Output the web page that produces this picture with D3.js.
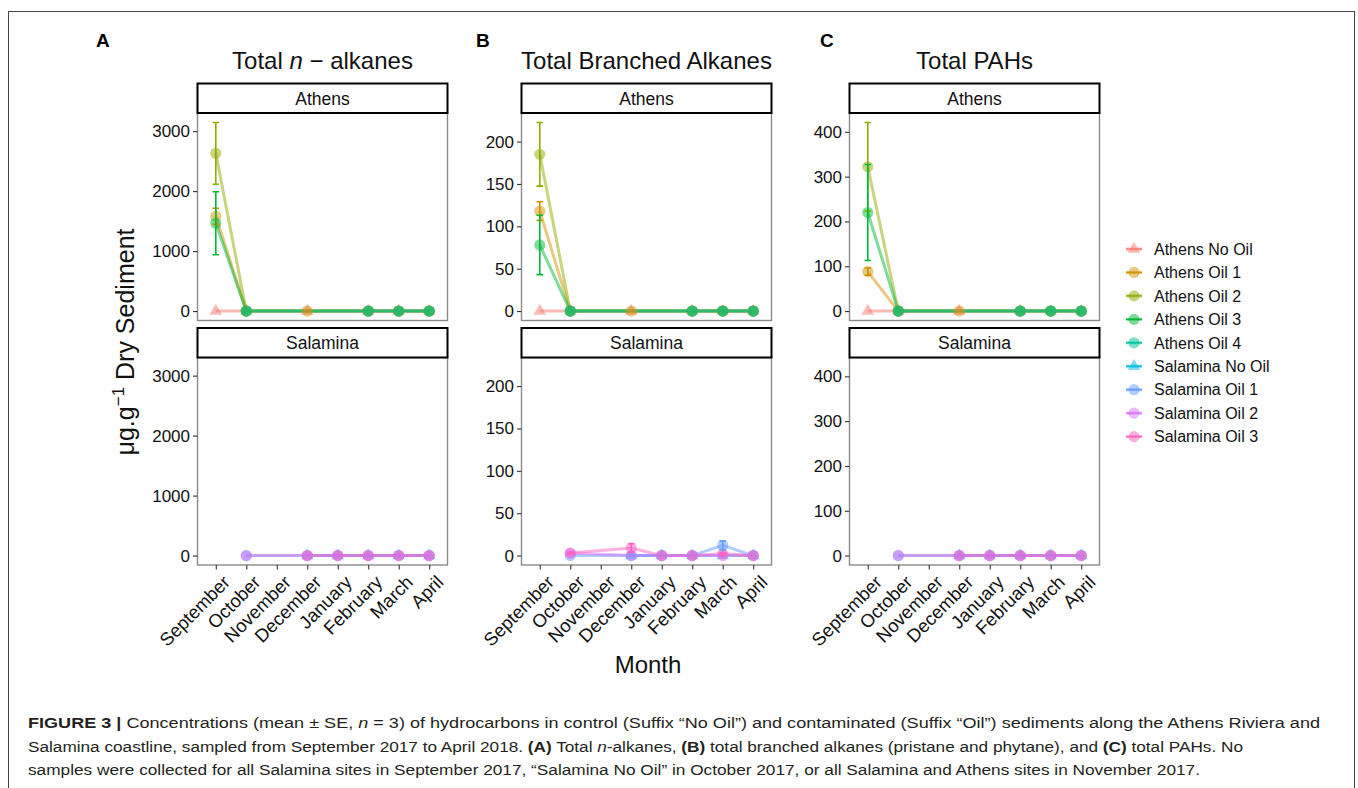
<!DOCTYPE html>
<html><head><meta charset="utf-8">
<script src="https://cdn.jsdelivr.net/npm/d3@7"></script>
<style>
body{margin:0;background:#fff}
svg{display:block}
text{font-family:"Liberation Sans",Arial,Helvetica,sans-serif}
</style>
</head><body>
<svg id="c" width="1358" height="788"></svg>
<script>
// ---------------- DATA ----------------
const months = ["September","October","November","December","January","February","March","April"];
const seriesNames = ["Athens No Oil","Athens Oil 1","Athens Oil 2","Athens Oil 3","Athens Oil 4",
                     "Salamina No Oil","Salamina Oil 1","Salamina Oil 2","Salamina Oil 3"];
const seriesSite = ["Athens","Athens","Athens","Athens","Athens","Salamina","Salamina","Salamina","Salamina"];
const seriesShape = ["triangle","circle","circle","circle","circle","triangle","circle","circle","circle"];
const seriesColors = ["#F8766D","#D39200","#93AA00","#00BA38","#00C19F","#00B9E3","#619CFF","#DB72FB","#FF61C3"];
const sites = ["Athens","Salamina"];
const panelLetters = ["A","B","C"];
const yTicksA = [0,1000,2000,3000];
const yTicksB = [0,50,100,150,200];
const yTicksC = [0,100,200,300,400];

// (A) Total n-alkanes: mean, SE  (null = not sampled)
const nAlkMean = [
  [0,0,null,0,null,0,0,0],
  [1580,0,null,0,null,0,0,0],
  [2630,0,null,null,null,0,0,0],
  [1465,0,null,null,null,0,0,0],
  [null,0,null,null,null,0,0,0],
  [null,null,null,0,0,0,0,0],
  [null,0,null,0,0,0,0,0],
  [null,0,null,0,0,0,0,0],
  [null,null,null,0,0,0,0,0]
];
const nAlkSE = [
  [0,0,0,0,0,0,0,0],
  [135,0,0,0,0,0,0,0],
  [515,0,0,0,0,0,0,0],
  [525,0,0,0,0,0,0,0],
  [0,0,0,0,0,0,0,0],
  [0,0,0,0,0,0,0,0],
  [0,0,0,0,0,0,0,0],
  [0,0,0,0,0,0,0,0],
  [0,0,0,0,0,0,0,0]
];
// (B) Total branched alkanes
const brMean = [
  [0,0,null,0,null,0,0,0],
  [118,0,null,0,null,0,0,0],
  [185,0,null,null,null,0,0,0],
  [78,0,null,null,null,0,0,0],
  [null,0,null,null,null,0,0,0],
  [null,null,null,0,0,0,0,0],
  [null,0,null,0,0,0,12,0],
  [null,3,null,0,0,0,0,0],
  [null,3,null,9,0,0,2,0]
];
const brSE = [
  [0,0,0,0,0,0,0,0],
  [11,0,0,0,0,0,0,0],
  [37.6,0,0,0,0,0,0,0],
  [35,0,0,0,0,0,0,0],
  [0,0,0,0,0,0,0,0],
  [0,0,0,0,0,0,0,0],
  [0,0,0,0,0,0,5,0],
  [0,1.5,0,0,0,0,0,0],
  [0,1,0,5,0,0,1,0]
];
// (C) Total PAHs
const pahMean = [
  [0,0,null,0,null,0,0,0],
  [88,0,null,0,null,0,0,0],
  [322,0,null,null,null,0,0,0],
  [220,0,null,null,null,0,0,0],
  [null,0,null,null,null,0,0,0],
  [null,null,null,0,0,0,0,0],
  [null,0,null,0,0,0,0,0],
  [null,0,null,0,0,0,0,0],
  [null,null,null,0,0,0,0,0]
];
const pahSE = [
  [0,0,0,0,0,0,0,0],
  [8,0,0,0,0,0,0,0],
  [99,0,0,0,0,0,0,0],
  [107,0,0,0,0,0,0,0],
  [0,0,0,0,0,0,0,0],
  [0,0,0,0,0,0,0,0],
  [0,0,0,0,0,0,0,0],
  [0,0,0,0,0,0,0,0],
  [0,0,0,0,0,0,0,0]
];

// ---------------- LAYOUT ----------------
const svg = d3.select("#c");
const FONT = '"Liberation Sans",Arial,Helvetica,sans-serif';
const panelX = [197.5, 521.5, 849.5];
const panelW = 250;
const stripH = 29.5;
const facetTop = [83.5, 328];        // strip top for Athens, Salamina
const panelH = 207.5;
const TRI = 70;                       // triangle symbol area

// figure frame
svg.append("rect").attr("x",8.5).attr("y",11.5).attr("width",1346).attr("height",820)
  .attr("fill","none").attr("stroke","#444").attr("stroke-width",1);

const panels = [
  {mean:nAlkMean, se:nAlkSE, ticks:yTicksA},
  {mean:brMean, se:brSE, ticks:yTicksB},
  {mean:pahMean, se:pahSE, ticks:yTicksC}
];

panels.forEach((P, pi) => {
  const x0 = panelX[pi];
  const x = d3.scalePoint().domain(months).range([x0, x0 + panelW]).padding(0.6);
  // y extent (ggplot style: data incl. error bars, 5% expansion)
  let lo = Infinity, hi = -Infinity;
  P.mean.forEach((row, si) => row.forEach((v, mi) => {
    if (v == null) return;
    lo = Math.min(lo, v - P.se[si][mi]); hi = Math.max(hi, v + P.se[si][mi]);
  }));
  const ext = (hi - lo) * 0.05;
  const g = svg.append("g");

  // panel letter + title
  g.append("text").attr("x", [96,476,820][pi]).attr("y",47).attr("font-size",19)
    .attr("font-weight","bold").text(panelLetters[pi]);
  const tt = g.append("text").attr("x", x0 + panelW/2).attr("y",69).attr("font-size",24)
    .attr("text-anchor","middle").attr("fill","#111");
  if (pi === 0) {
    tt.append("tspan").text("Total ");
    tt.append("tspan").attr("font-style","italic").text("n");
    tt.append("tspan").text(" \u2212 alkanes");
  } else if (pi === 1) tt.text("Total Branched Alkanes");
  else tt.text("Total PAHs");

  sites.forEach((site, fi) => {
    const sTop = facetTop[fi];
    const pTop = sTop + stripH;
    const pBot = pTop + panelH;
    const y = d3.scaleLinear().domain([lo - ext, hi + ext]).range([pBot, pTop]);
    const fg = g.append("g");

    // panel
    fg.append("rect").attr("x",x0).attr("y",pTop).attr("width",panelW).attr("height",panelH)
      .attr("fill","#fff").attr("stroke","#8a8a8a").attr("stroke-width",1.4);
    // strip
    fg.append("rect").attr("x",x0).attr("y",sTop).attr("width",panelW).attr("height",stripH)
      .attr("fill","#fff").attr("stroke","#000").attr("stroke-width",2);
    fg.append("text").attr("x",x0+panelW/2).attr("y",sTop+stripH/2).attr("dy","0.36em")
      .attr("text-anchor","middle").attr("font-size",17.5).attr("fill","#111").text(site);

    // y axis
    const ya = fg.append("g").attr("transform",`translate(${x0},0)`)
      .call(d3.axisLeft(y).tickValues(P.ticks).tickSize(4.5).tickPadding(3).tickFormat(d3.format("d")));
    ya.select(".domain").remove();
    ya.selectAll("line").attr("stroke","#333").attr("stroke-width",1.1);
    ya.selectAll("text").attr("font-size",17).attr("fill","#111").attr("font-family",FONT);

    // x axis (bottom facet only)
    if (fi === 1) {
      const xa = fg.append("g").attr("transform",`translate(0,${pBot})`)
        .call(d3.axisBottom(x).tickSize(4.5).tickFormat(""));
      xa.select(".domain").remove();
      xa.selectAll("line").attr("stroke","#333").attr("stroke-width",1.1);
      months.forEach(m => {
        fg.append("text").attr("transform",`translate(${x(m)+6},${pBot+9}) rotate(-45)`)
          .attr("text-anchor","end").attr("dy","0.72em").attr("font-size",18.5).attr("fill","#111").text(m);
      });
    }

    const idx = seriesNames.map((n,i)=>i).filter(i => seriesSite[i] === site);
    const pts = i => months.map((m, mi) => ({m, v:P.mean[i][mi], s:P.se[i][mi]})).filter(d => d.v != null);
    const line = d3.line().x(d => x(d.m)).y(d => y(d.v));
    // lines
    idx.forEach(i => {
      fg.append("path").datum(pts(i)).attr("d", line).attr("fill","none")
        .attr("stroke", seriesColors[i]).attr("stroke-opacity",0.5).attr("stroke-width",3);
    });
    // points
    idx.forEach(i => {
      pts(i).forEach(d => {
        if (seriesShape[i] === "circle") {
          fg.append("circle").attr("cx",x(d.m)).attr("cy",y(d.v)).attr("r",5.6)
            .attr("fill",seriesColors[i]).attr("fill-opacity",0.5);
        } else {
          fg.append("path").attr("d", d3.symbol(d3.symbolTriangle, TRI)())
            .attr("transform",`translate(${x(d.m)},${y(d.v)})`)
            .attr("fill",seriesColors[i]).attr("fill-opacity",0.5);
        }
      });
    });
    // error bars
    const cap = 3.3;
    idx.forEach(i => {
      pts(i).filter(d => d.s > 0).forEach(d => {
        const cx = x(d.m), yt = y(d.v + d.s), yb = y(d.v - d.s);
        const p = `M${cx-cap},${yt}H${cx+cap}M${cx},${yt}V${yb}M${cx-cap},${yb}H${cx+cap}`;
        fg.append("path").attr("d",p).attr("fill","none").attr("stroke",seriesColors[i]).attr("stroke-width",1.6);
      });
    });
  });
});

// y-axis title
const yl = svg.append("text").attr("transform","translate(134,342) rotate(-90)")
  .attr("text-anchor","middle").attr("font-size",25).attr("fill","#111");
yl.append("tspan").text("\u03bcg.g");
yl.append("tspan").attr("font-size",17).attr("dy",-10).text("\u22121");
yl.append("tspan").attr("dy",10).text(" Dry Sediment");

// x-axis title
svg.append("text").attr("x",648).attr("y",673).attr("text-anchor","middle")
  .attr("font-size",24).attr("fill","#111").text("Month");

// legend
const lg = svg.append("g");
seriesNames.forEach((n, i) => {
  const cy = 249 + i * 23.45;
  lg.append("line").attr("x1",1126).attr("x2",1142).attr("y1",cy).attr("y2",cy)
    .attr("stroke",seriesColors[i]).attr("stroke-opacity",0.5).attr("stroke-width",3);
  lg.append("line").attr("x1",1126).attr("x2",1142).attr("y1",cy).attr("y2",cy)
    .attr("stroke",seriesColors[i]).attr("stroke-width",1.3);
  if (seriesShape[i] === "circle")
    lg.append("circle").attr("cx",1134).attr("cy",cy).attr("r",5.6)
      .attr("fill",seriesColors[i]).attr("fill-opacity",0.5);
  else
    lg.append("path").attr("d", d3.symbol(d3.symbolTriangle,TRI)())
      .attr("transform",`translate(1134,${cy})`).attr("fill",seriesColors[i]).attr("fill-opacity",0.5);
  lg.append("text").attr("x",1154).attr("y",cy).attr("dy","0.36em").attr("font-size",16)
    .attr("fill","#111").text(n);
});

// caption
const capLines = [
  [["b","FIGURE 3 |"],["r"," Concentrations (mean \u00b1 SE, "],["i","n"],["r"," = 3) of hydrocarbons in control (Suffix \u201cNo Oil\u201d) and contaminated (Suffix \u201cOil\u201d) sediments along the Athens Riviera and"]],
  [["r","Salamina coastline, sampled from September 2017 to April 2018. "],["b","(A)"],["r"," Total "],["i","n"],["r","-alkanes, "],["b","(B)"],["r"," total branched alkanes (pristane and phytane), and "],["b","(C)"],["r"," total PAHs. No"]],
  [["r","samples were collected for all Salamina sites in September 2017, \u201cSalamina No Oil\u201d in October 2017, or all Salamina and Athens sites in November 2017."]]
];
const capLen = [1292, 1215, 1172];
capLines.forEach((parts, li) => {
  const t = svg.append("text").attr("x",28).attr("y",728 + li*23.5).attr("font-size",15.5)
    .attr("fill","#231f20").attr("textLength",capLen[li]).attr("lengthAdjust","spacingAndGlyphs")
    .attr("font-family",'"Liberation Sans Narrow","Liberation Sans",Arial,sans-serif');
  parts.forEach(([k, s]) => {
    const sp = t.append("tspan").text(s);
    if (k === "b") sp.attr("font-weight","bold");
    if (k === "i") sp.attr("font-style","italic");
  });
});
</script>
</body></html>
